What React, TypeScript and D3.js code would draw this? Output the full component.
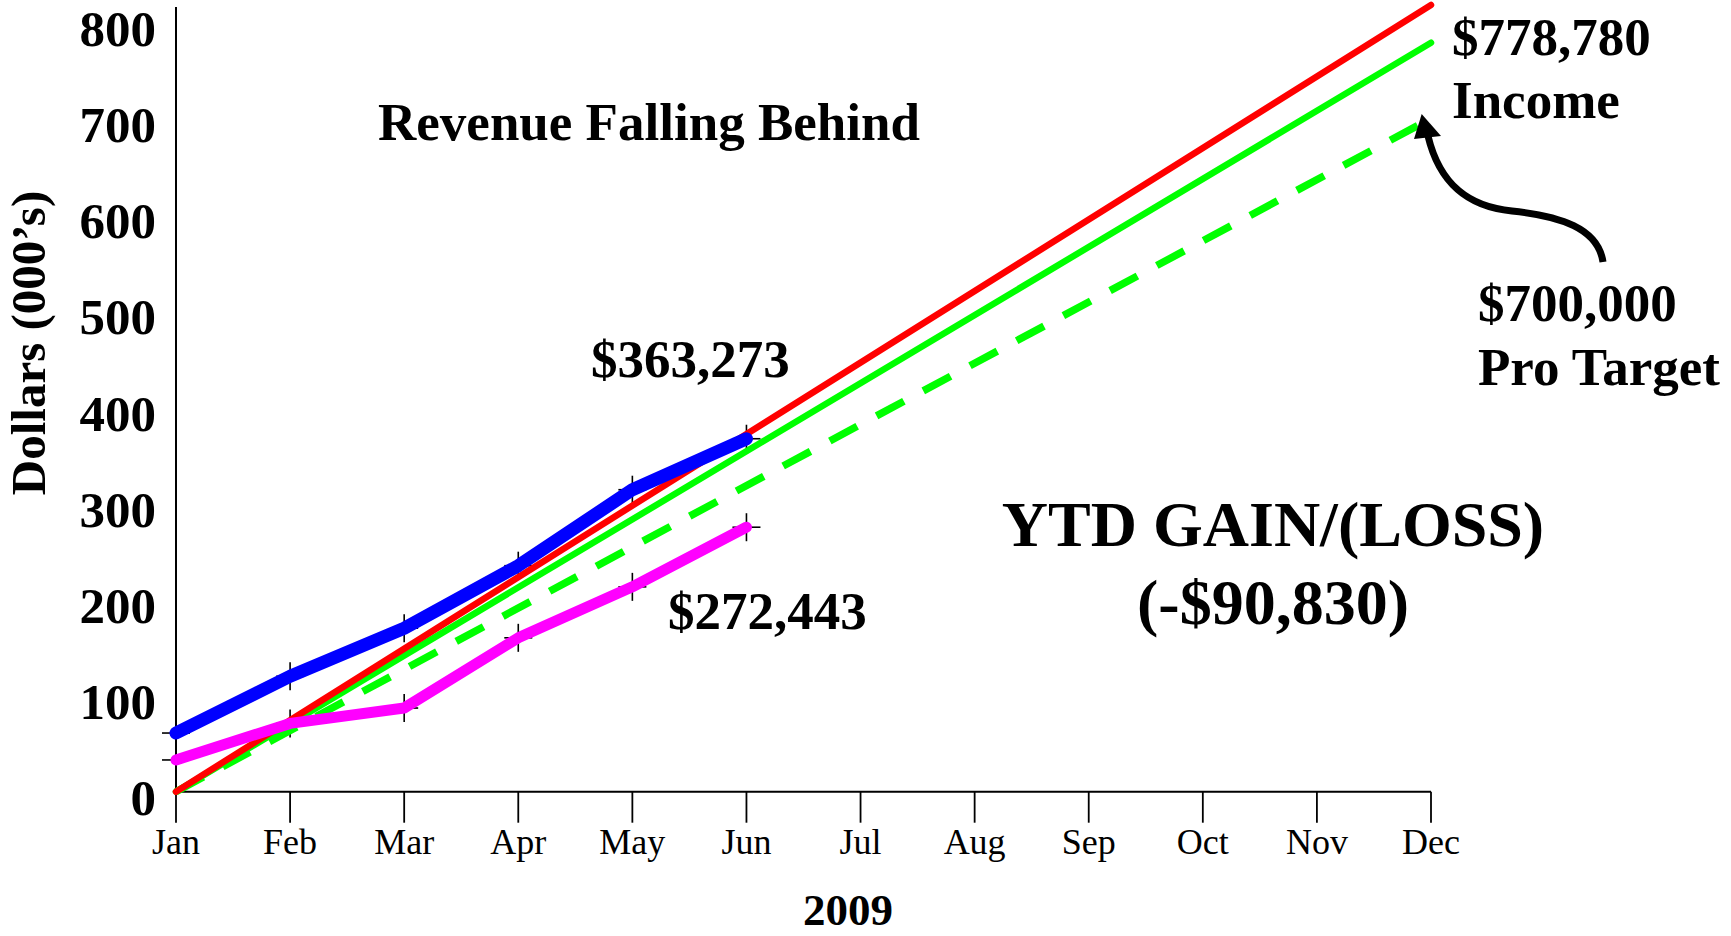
import React from "react";
import * as d3 from "d3";

// ---------- data ----------
const months = ["Jan", "Feb", "Mar", "Apr", "May", "Jun", "Jul", "Aug", "Sep", "Oct", "Nov", "Dec"];
const yTicks = [0, 100, 200, 300, 400, 500, 600, 700, 800];

const actualMonths = ["Jan", "Feb", "Mar", "Apr", "May", "Jun"];
const incomeActual = [61, 120, 170, 235, 314, 367]; // blue
const revenueActual = [33, 71, 87, 160, 213, 275]; // magenta

const trendMonths = ["Jan", "Dec"];
const trendProjection = [0, 818]; // red
const incomeTarget = [0, 778.78]; // green solid
const proTarget = [0, 700]; // green dashed

// ---------- layout ----------
const W = 1731;
const H = 936;
const FONT = "'Liberation Serif', 'Times New Roman', Times, serif";

export default function App() {
  const x = d3.scalePoint<string>().domain(months).range([176, 1431]);
  const y = d3.scaleLinear().domain([0, 800]).range([791.7, 22.3]);
  const plotTop = 7;

  const line = d3
    .line<[string, number]>()
    .x((d) => x(d[0]) as number)
    .y((d) => y(d[1]));

  const zip = (m: string[], v: number[]) => m.map((mm, i) => [mm, v[i]] as [string, number]);

  const cross = (m: string, v: number, k: string) => {
    const cx = x(m) as number;
    const cy = y(v);
    return (
      <g key={k} stroke="#000" strokeWidth={1.6}>
        <line x1={cx - 14} x2={cx + 14} y1={cy} y2={cy} />
        <line x1={cx} x2={cx} y1={cy - 14} y2={cy + 14} />
      </g>
    );
  };

  const x0 = x("Jan") as number;
  const x1 = x("Dec") as number;
  const y0 = y(0);

  return (
    <svg
      width={W}
      height={H}
      style={{ position: "absolute", left: 0, top: 0, background: "#fff" }}
      fontFamily={FONT}
    >
      <rect width={W} height={H} fill="#fff" />

      {/* y axis */}
      <line x1={x0} x2={x0} y1={plotTop} y2={y0} stroke="#000" strokeWidth={2} />
      {yTicks.map((t) => (
        <text
          key={t}
          x={156}
          y={y(t) + 23.5}
          textAnchor="end"
          fontSize={51}
          fontWeight="bold"
          fill="#000"
        >
          {t}
        </text>
      ))}

      {/* x axis */}
      <line x1={x0} x2={x1} y1={y0} y2={y0} stroke="#000" strokeWidth={2} />
      {months.map((m) => (
        <g key={m}>
          <line x1={x(m)} x2={x(m)} y1={y0} y2={y0 + 31} stroke="#000" strokeWidth={1.8} />
          <text x={x(m)} y={854} textAnchor="middle" fontSize={36} fill="#000">
            {m}
          </text>
        </g>
      ))}

      {/* markers (under lines) */}
      {actualMonths.map((m, i) => cross(m, incomeActual[i], "b" + m))}
      {actualMonths.map((m, i) => cross(m, revenueActual[i], "m" + m))}

      {/* target lines */}
      <path
        d={line(zip(trendMonths, proTarget)) as string}
        fill="none"
        stroke="#00ff00"
        strokeWidth={7.5}
        strokeDasharray="31 22"
      />
      <path
        d={line(zip(trendMonths, incomeTarget)) as string}
        fill="none"
        stroke="#00ff00"
        strokeWidth={6.5}
        strokeLinecap="round"
      />
      <path
        d={line(zip(trendMonths, trendProjection)) as string}
        fill="none"
        stroke="#ff0000"
        strokeWidth={6.5}
        strokeLinecap="round"
      />

      {/* actual lines */}
      <path
        d={line(zip(actualMonths, revenueActual)) as string}
        fill="none"
        stroke="#ff00ff"
        strokeWidth={11}
        strokeLinecap="round"
        strokeLinejoin="round"
      />
      <path
        d={line(zip(actualMonths, incomeActual)) as string}
        fill="none"
        stroke="#0000ff"
        strokeWidth={13}
        strokeLinecap="round"
        strokeLinejoin="round"
      />

      {/* axis titles */}
      <text
        transform="translate(45,343) rotate(-90)"
        textAnchor="middle"
        fontSize={49}
        fontWeight="bold"
        fill="#000"
      >
        Dollars (000’s)
      </text>
      <text x={848} y={925} textAnchor="middle" fontSize={45} fontWeight="bold" fill="#000">
        2009
      </text>

      {/* annotations */}
      <g fontWeight="bold" fill="#000">
        <text x={649} y={140} textAnchor="middle" fontSize={53}>
          Revenue Falling Behind
        </text>
        <text x={591} y={377} fontSize={53}>
          $363,273
        </text>
        <text x={668} y={629} fontSize={53}>
          $272,443
        </text>
        <text x={1273} y={546} textAnchor="middle" fontSize={64}>
          YTD GAIN/(LOSS)
        </text>
        <text x={1273} y={624} textAnchor="middle" fontSize={64}>
          (-$90,830)
        </text>
        <text x={1452} y={55} fontSize={53}>
          $778,780
        </text>
        <text x={1452} y={118} fontSize={53}>
          Income
        </text>
        <text x={1478} y={321} fontSize={53}>
          $700,000
        </text>
        <text x={1478} y={385} fontSize={53}>
          Pro Target
        </text>
      </g>

      {/* arrow */}
      <path
        d="M1603,262 C1598,228 1560,216 1512,211 C1470,207 1440,186 1428,136"
        fill="none"
        stroke="#000"
        strokeWidth={7}
      />
      <polygon points="1421.7,114 1414,139 1441,136" fill="#000" />
    </svg>
  );
}
